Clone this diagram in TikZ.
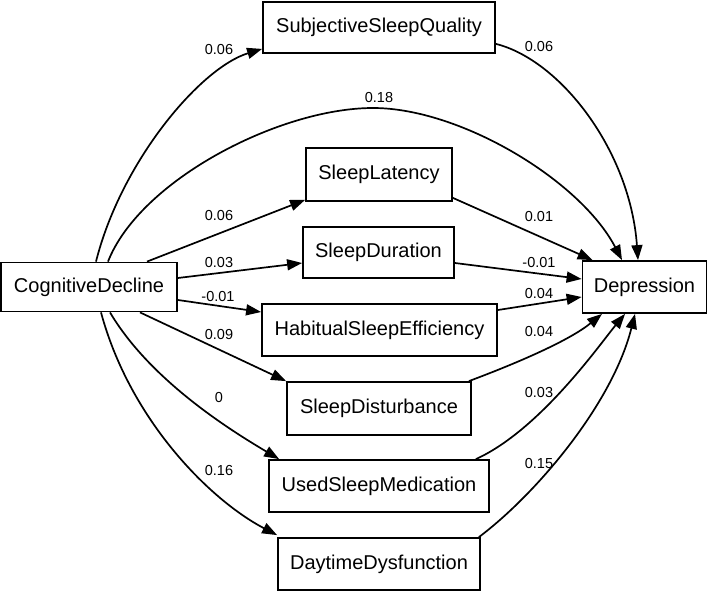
\documentclass[tikz,border=0pt]{standalone}
\usepackage{fontspec}
\setmainfont{Liberation Sans}
\usetikzlibrary{arrows.meta}
\tikzset{
  box/.style={draw, line width=1.8pt, inner sep=0pt, font=\fontsize{20}{24}\selectfont},
  lbl/.style={font=\fontsize{14.5}{16}\selectfont, inner sep=0pt},
  edge/.style={line width=1.7pt, -{Triangle[length=15pt,width=11pt]}}
}
\begin{document}
\begin{tikzpicture}[x=1pt,y=-1pt]
\useasboundingbox (0,0) rectangle (708,593);
% nodes
\node[box, minimum width=176pt, minimum height=49pt] (CD) at (89,287) {CognitiveDecline};
\node[box, minimum width=124pt, minimum height=52pt] (Dep) at (644.5,287) {Depression};
\node[box, minimum width=232pt, minimum height=51pt] (SSQ) at (379,27.5) {SubjectiveSleepQuality};
\node[box, minimum width=146pt, minimum height=53pt] (SL) at (379,174.5) {SleepLatency};
\node[box, minimum width=151pt, minimum height=51pt] (SD) at (378.5,252.5) {SleepDuration};
\node[box, minimum width=235pt, minimum height=52pt] (HSE) at (379.5,330) {HabitualSleepEfficiency};
\node[box, minimum width=184pt, minimum height=53pt] (SDist) at (379,408.5) {SleepDisturbance};
\node[box, minimum width=220pt, minimum height=52pt] (USM) at (379,486) {UsedSleepMedication};
\node[box, minimum width=202pt, minimum height=52pt] (DD) at (379,564) {DaytimeDysfunction};
\coordinate (pk) at (373,108);
% edges from CognitiveDecline
\draw[edge] ([xshift=7pt]CD.north) .. controls (121,162) and (200,68) .. ([yshift=5pt]SSQ.south west);
\draw[edge] ([xshift=19pt]CD.north) .. controls (140,180) and (280,108) .. (pk) .. controls (460,108) and (580,180) .. ([xshift=-22.5pt]Dep.north);
\draw[edge] ([xshift=58pt]CD.north) -- ([yshift=2pt]SL.south west);
\draw[edge] ([yshift=9pt]CD.east) -- ([yshift=-10.5pt]SD.west);
\draw[edge] ([yshift=-13pt]CD.east) -- ([yshift=18pt]HSE.west);
\draw[edge] ([xshift=51pt]CD.south) -- (SDist.north west);
\draw[edge] ([xshift=21pt]CD.south) .. controls (150,380) and (230,430) .. ([xshift=11pt]USM.north west);
\draw[edge] ([xshift=12pt]CD.south) .. controls (130,420) and (210,500) .. ([yshift=2pt]DD.north west);
% edges to Depression
\draw[edge] ([yshift=10pt]SSQ.south east) .. controls (560,60) and (630,150) .. ([xshift=-6.5pt]Dep.north);
\draw[edge] ([yshift=4pt]SL.south east) -- ([xshift=11pt]Dep.north west);
\draw[edge] ([yshift=-10.5pt]SD.east) -- ([yshift=8pt]Dep.west);
\draw[edge] ([yshift=20pt]HSE.east) -- ([yshift=-10pt]Dep.west);
\draw[edge] ([xshift=-3pt]SDist.north east) .. controls (520,362) and (570,340) .. ([xshift=-42.5pt]Dep.south);
\draw[edge] ([xshift=-14pt]USM.north east) .. controls (540,430) and (600,344) .. ([xshift=-19.5pt]Dep.south);
\draw[edge] ([xshift=-2pt]DD.north east) .. controls (535,495) and (612,405) .. ([xshift=-9.5pt]Dep.south);
% labels
\node[lbl] (l1) at (219,50) {0.06};
\node[lbl] (l2) at (379,98) {0.18};
\node[lbl] (l3) at (219,216) {0.06};
\node[lbl] (l4) at (219,263) {0.03};
\node[lbl] (l5) at (218,297) {-0.01};
\node[lbl] (l6) at (219,335) {0.09};
\node[lbl] (l7) at (219,398) {0};
\node[lbl] (l8) at (219,471) {0.16};
\node[lbl] (r1) at (539,47) {0.06};
\node[lbl] (r2) at (539,217) {0.01};
\node[lbl] (r3) at (539,263) {-0.01};
\node[lbl] (r4) at (539,294) {0.04};
\node[lbl] (r5) at (539,332) {0.04};
\node[lbl] (r6) at (539,393) {0.03};
\node[lbl] (r7) at (539,464) {0.15};
\end{tikzpicture}
\end{document}
